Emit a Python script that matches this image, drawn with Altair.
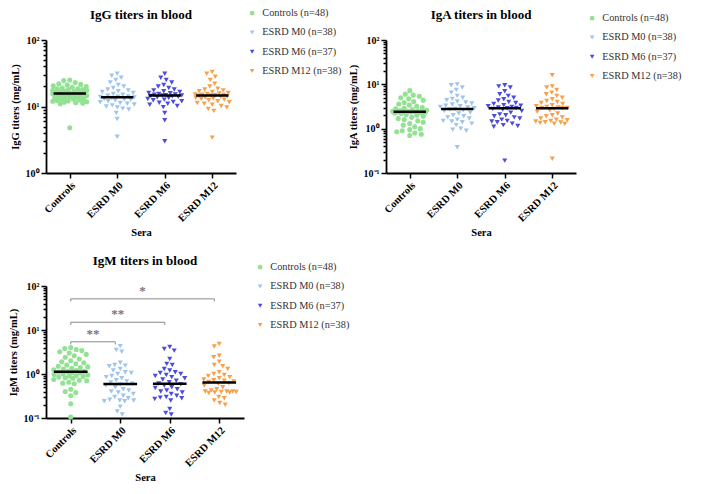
import math
import json
import altair as alt
import pandas as pd

groups = ["Controls", "ESRD M0", "ESRD M6", "ESRD M12"]
legend_labels = ["Controls (n=48)", "ESRD M0 (n=38)", "ESRD M6 (n=37)", "ESRD M12 (n=38)"]
colors = ["#93e293", "#9fc5ec", "#4d4ddd", "#f5a14d"]
shapes = ["circle", "triangle-down", "triangle-down", "triangle-down"]

# ---- IgG (mg/mL) ----
igg_controls = [25, 24.5, 23, 22, 21.5, 21, 20.5, 20, 19.5, 19, 18.5, 18.5, 18, 18, 17.5, 17.5,
                17, 17, 16.5, 16.5, 16, 16, 15.8, 15.7, 15.6, 15.2, 15, 14.8, 14.5, 14.2, 14,
                13.8, 13.5, 13.2, 13, 12.8, 12.5, 12.3, 12, 11.8, 11.6, 11.4, 11.2, 11, 13.6,
                14.6, 12.1, 4.8]
igg_m0 = [31, 29, 27, 25, 23, 21, 20, 19, 18, 17.5, 17, 16.5, 16, 15.5, 15, 14.5, 14.2, 14, 13.9,
          13.7, 13.4, 13, 12.8, 12.6, 12.3, 12, 11.6, 11.3, 11, 10.7, 10.4, 10, 9.7, 9.3, 9, 8,
          6.5, 3.5]
igg_m6 = [31, 27, 25, 23, 21, 20, 19, 18, 17.5, 17, 16.5, 16, 15.8, 15.5, 15.2, 15, 14.8, 14.7,
          14.6, 14.4, 14.2, 14, 13.7, 13.4, 13, 12.7, 12.4, 12, 11.7, 11.4, 11, 10.6, 10.2, 9.8,
          8, 6.2, 3.0]
igg_m12 = [33, 31, 28, 25, 22, 20, 18.5, 18, 17.5, 17, 16.5, 16, 15.7, 15.4, 15.2, 15, 14.9, 14.8,
           14.7, 14.5, 14.3, 14, 13.8, 13.5, 13.2, 13, 12.7, 12.4, 12, 11.6, 11.3, 11, 10.6, 10.2,
           9.7, 9.2, 8.6, 3.4]
igg_medians = [15.7, 13.8, 14.6, 14.6]

# ---- IgA (mg/mL) ----
iga_controls = [7.2, 6.0, 5.7, 5.4, 5.0, 4.7, 4.4, 4.1, 3.9, 3.6, 3.4, 3.2, 3.0, 2.9, 2.8, 2.7,
                2.6, 2.55, 2.5, 2.48, 2.46, 2.44, 2.42, 2.41, 2.39, 2.37, 2.35, 2.3, 2.25, 2.2,
                2.1, 2.0, 1.9, 1.8, 1.7, 1.6, 1.5, 1.4, 1.3, 1.2, 1.1, 1.0, 0.95, 0.9, 0.85, 0.8,
                0.75, 0.7]
iga_m0 = [10, 9.5, 8.5, 7.5, 6.5, 5.5, 5, 4.7, 4.4, 4.1, 3.9, 3.7, 3.5, 3.3, 3.2, 3.1, 3.0, 2.9,
          2.8, 2.72, 2.6, 2.5, 2.3, 2.2, 2.0, 1.9, 1.8, 1.7, 1.6, 1.5, 1.45, 1.4, 1.3, 1.2, 1.0,
          0.95, 0.9, 0.38]
iga_m6 = [9.5, 9, 8.5, 7, 6, 5.5, 5, 4.6, 4.3, 4.0, 3.8, 3.6, 3.4, 3.3, 3.2, 3.1, 3.0, 2.95, 2.9,
          2.8, 2.7, 2.5, 2.3, 2.1, 2.0, 1.9, 1.8, 1.7, 1.6, 1.5, 1.45, 1.4, 1.3, 1.2, 1.15, 1.1,
          0.19]
iga_m12 = [16, 9, 8.5, 7.5, 6.5, 6, 5.5, 5, 4.6, 4.2, 4.0, 3.8, 3.6, 3.4, 3.2, 3.1, 3.0, 2.95,
           2.92, 2.88, 2.8, 2.6, 2.4, 2.2, 2.0, 1.9, 1.8, 1.7, 1.6, 1.55, 1.5, 1.45, 1.4, 1.38,
           1.35, 1.3, 1.28, 0.21]
iga_medians = [2.4, 2.76, 2.9, 2.9]

# ---- IgM (mg/mL) ----
igm_controls = [4.0, 3.8, 3.6, 3.4, 3.2, 3.0, 2.8, 2.6, 2.4, 2.2, 2.0, 1.9, 1.8, 1.7, 1.6, 1.5,
                1.45, 1.4, 1.35, 1.3, 1.25, 1.2, 1.15, 1.13, 1.11, 1.08, 1.05, 1.0, 0.98, 0.95,
                0.92, 0.9, 0.88, 0.85, 0.82, 0.8, 0.75, 0.72, 0.7, 0.65, 0.62, 0.6, 0.45, 0.4,
                0.38, 0.32, 0.21, 0.105]
igm_m0 = [4.3, 3.5, 3.2, 1.8, 1.6, 1.55, 1.5, 1.3, 1.2, 1.1, 1.05, 1.0, 0.9, 0.85, 0.8, 0.72,
          0.68, 0.64, 0.6, 0.58, 0.55, 0.5, 0.45, 0.42, 0.4, 0.38, 0.35, 0.32, 0.3, 0.28, 0.26,
          0.25, 0.25, 0.24, 0.24, 0.18, 0.14, 0.12]
igm_m6 = [4.1, 3.7, 3.4, 2.2, 1.7, 1.6, 1.3, 1.2, 1.1, 1.05, 1.0, 0.95, 0.9, 0.85, 0.8, 0.75, 0.7,
          0.65, 0.61, 0.58, 0.55, 0.5, 0.48, 0.45, 0.42, 0.4, 0.38, 0.35, 0.32, 0.3, 0.29, 0.28,
          0.27, 0.25, 0.16, 0.13, 0.12]
igm_m12 = [4.8, 4.2, 2.6, 2.4, 1.9, 1.6, 1.5, 1.3, 1.1, 1.0, 0.95, 0.9, 0.85, 0.8, 0.75, 0.72,
           0.7, 0.68, 0.66, 0.62, 0.6, 0.55, 0.5, 0.45, 0.42, 0.4, 0.4, 0.4, 0.39, 0.39, 0.38,
           0.38, 0.37, 0.3, 0.28, 0.25, 0.22, 0.2]
igm_medians = [1.12, 0.59, 0.60, 0.64]

# significance brackets (IgM panel)
brk_start = [0, 0, 0]
brk_end = [1, 2, 3]
brk_level = [5.4, 15, 51]
brk_text = ["**", "**", "*"]

FONT = "Liberation Serif"
SUP = {100: "10²", 10: "10¹", 1: "10⁰", 0.1: "10⁻¹"}


def swarm_offsets(vals, to_px, d, cap):
    """Greedy beeswarm layout (pixel offsets), bounded to +-cap."""
    order = sorted(range(len(vals)), key=lambda i: to_px(vals[i]))
    grid = [k * 0.5 for k in range(-int(cap * 2), int(cap * 2) + 1)]
    placed = []
    xs = [0.0] * len(vals)
    for i in order:
        y = to_px(vals[i])
        near = [(xj, yj) for xj, yj in placed if abs(y - yj) < d]
        best, best_key = 0.0, None
        for c in grid:
            if near:
                md = min(math.hypot(c - xj, y - yj) for xj, yj in near)
            else:
                md = d
            ok = md >= d - 1e-6
            key = (0 if ok else 1, abs(c) if ok else -md, abs(c))
            if best_key is None or key < best_key:
                best_key, best = key, c
        xs[i] = best
        placed.append((best, y))
    return xs


def panel(title, ytitle, series, medians, lo, hi, W, H, legy, toff, brackets=None):
    llo, lhi = math.log10(lo), math.log10(hi)

    def to_px(v):
        return H * (lhi - math.log10(v)) / (lhi - llo)

    rows = []
    for gi, vals in enumerate(series):
        offs = swarm_offsets(vals, to_px, 5.6, 17)
        for v, o in zip(vals, offs):
            rows.append({"group": groups[gi], "label": legend_labels[gi], "value": v,
                         "xpos": gi + o / (W / 4.0)})
    df = pd.DataFrame(rows)
    med = pd.DataFrame({"idx": list(range(4)), "median": medians})

    xscale = alt.Scale(domain=[-0.5, 3.5], nice=False, zero=False)
    yscale = alt.Scale(type="log", domain=[lo, hi], nice=False)

    decades = [10 ** e for e in range(int(round(llo)), int(round(lhi)) + 1)]
    ticks = []
    for e in range(int(round(llo)), int(round(lhi))):
        for m in range(1, 10):
            ticks.append(round(m * 10 ** e, 6))
    ticks.append(hi)
    lab = " : ".join(f"datum.value == {d} ? '{SUP[d]}'" for d in decades) + " : ''"
    dec_test = "indexof(" + json.dumps(decades) + ", datum.value) >= 0"

    yaxis = alt.Axis(values=ticks, labelExpr=lab, title=ytitle, labelOverlap=False,
                     tickSize={"condition": {"test": dec_test, "value": 5}, "value": 3},
                     labelFontSize=10, titleFontSize=10.5, titlePadding=5, labelPadding=2)
    xaxis = alt.Axis(values=[0, 1, 2, 3],
                     labelExpr=json.dumps(groups) + "[datum.value]",
                     labelAngle=-45, labelFontSize=10.5, title="Sera", titleFontSize=10.5,
                     tickSize=5, labelPadding=2, titlePadding=4)

    pts = alt.Chart(df).mark_point(filled=True, size=26, opacity=1).encode(
        x=alt.X("xpos:Q", scale=xscale, axis=xaxis),
        y=alt.Y("value:Q", scale=yscale, axis=yaxis),
        color=alt.Color("label:N", scale=alt.Scale(domain=legend_labels, range=colors),
                        legend=alt.Legend(title=None, orient="none", legendX=W + 11, legendY=legy,
                                          labelFont=FONT, labelFontSize=10.3, labelColor="#333",
                                          symbolSize=22, rowPadding=8.3, padding=0,
                                          labelOffset=5)),
        shape=alt.Shape("label:N", scale=alt.Scale(domain=legend_labels, range=shapes)),
    )
    meds = alt.Chart(med).transform_calculate(
        x1="datum.idx - 0.34", x2="datum.idx + 0.34"
    ).mark_rule(color="black", strokeWidth=2.5).encode(
        x=alt.X("x1:Q", scale=xscale, axis=xaxis),
        x2="x2:Q",
        y=alt.Y("median:Q", scale=yscale, axis=yaxis),
    )
    layers = [pts, meds]
    if brackets is not None:
        bdf = pd.DataFrame(brackets)
        base = alt.Chart(bdf).transform_calculate(
            xe="datum.end - 0.1", ylow="datum.level * 0.87", xm="(datum.start + datum.end - 0.1) / 2"
        )
        hline = base.mark_rule(color="#8a8a8a", strokeWidth=1).encode(
            x=alt.X("start:Q", scale=xscale, axis=xaxis), x2="xe:Q",
            y=alt.Y("level:Q", scale=yscale, axis=yaxis))
        ltick = base.mark_rule(color="#8a8a8a", strokeWidth=1).encode(
            x=alt.X("start:Q", scale=xscale, axis=xaxis),
            y=alt.Y("level:Q", scale=yscale, axis=yaxis), y2="ylow:Q")
        rtick = base.mark_rule(color="#8a8a8a", strokeWidth=1).encode(
            x=alt.X("xe:Q", scale=xscale, axis=xaxis),
            y=alt.Y("level:Q", scale=yscale, axis=yaxis), y2="ylow:Q")
        stars = base.mark_text(color="#777", font=FONT, fontSize=13, fontWeight="bold",
                               baseline="bottom", dy=-1).encode(
            x=alt.X("xm:Q", scale=xscale, axis=xaxis),
            y=alt.Y("level:Q", scale=yscale, axis=yaxis), text="text:N")
        layers += [hline, ltick, rtick, stars]

    return alt.layer(*layers).properties(
        width=W, height=H,
        title=alt.TitleParams(title, font=FONT, fontSize=13, fontWeight="bold",
                              anchor="middle", frame="group", offset=toff, color="black"),
    )


p1 = panel("IgG titers in blood", "IgG titers (mg/mL)",
           [igg_controls, igg_m0, igg_m6, igg_m12], igg_medians, 1, 100, 190, 133, -32, -14)
p2 = panel("IgA titers in blood", "IgA titers (mg/mL)",
           [iga_controls, iga_m0, iga_m6, iga_m12], iga_medians, 0.1, 100, 190, 133, -27, -9)
p3 = panel("IgM titers in blood", "IgM titers (mg/mL)",
           [igm_controls, igm_m0, igm_m6, igm_m12], igm_medians, 0.1, 100, 198, 132, -24, -6,
           brackets={"start": brk_start, "end": brk_end, "level": brk_level, "text": brk_text})

top = alt.hconcat(p1, p2, spacing=6).resolve_scale(color="independent", shape="independent")
chart = alt.vconcat(top, p3, spacing=16).resolve_scale(
    color="independent", shape="independent"
).properties(padding=0).configure_view(stroke=None).configure_axis(
    grid=False, domainColor="black", domainWidth=1.8, tickColor="black", tickWidth=1.5,
    labelColor="black", titleColor="black", labelFont=FONT, titleFont=FONT,
    labelFontWeight="bold", titleFontWeight="bold",
)

chart.save("out.html", embed_options={"renderer": "svg", "actions": False})
